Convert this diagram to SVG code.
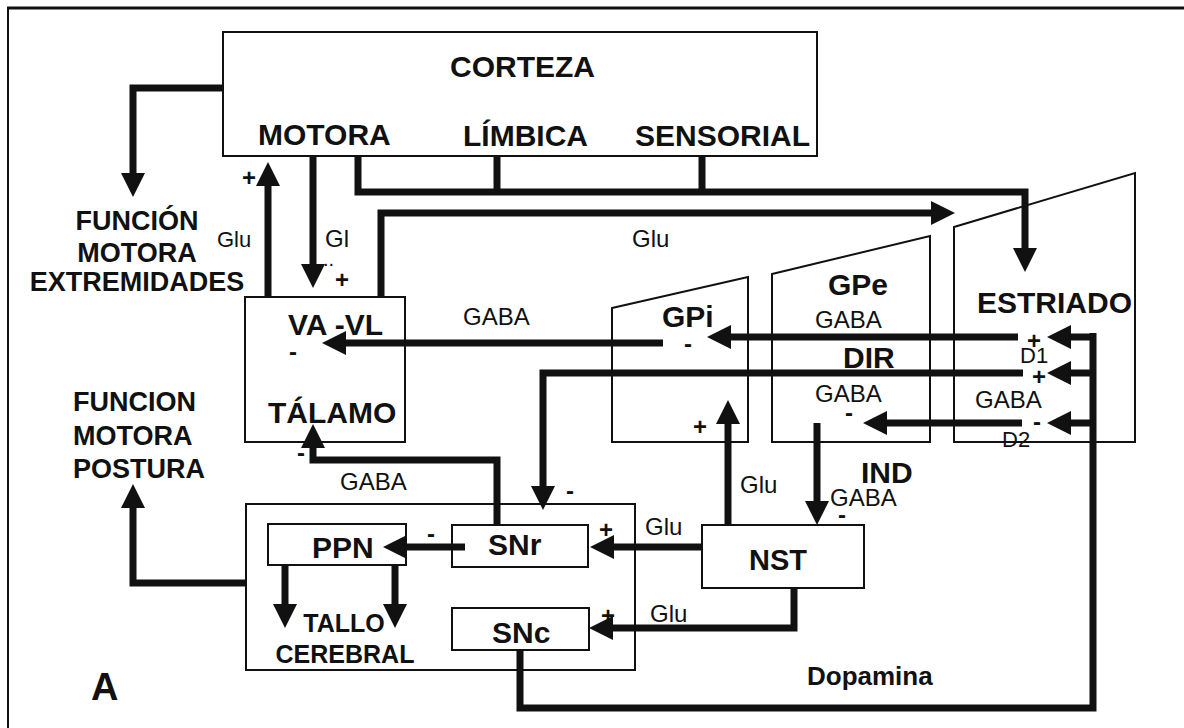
<svg xmlns="http://www.w3.org/2000/svg" width="1184" height="728" viewBox="0 0 1184 728">
<style>
.box{fill:none;stroke:#111;stroke-width:2}
.ln{fill:none;stroke:#111;stroke-width:7;stroke-linejoin:miter;stroke-linecap:butt}
.b{font-family:"Liberation Sans",Arial,sans-serif;font-weight:bold;fill:#111}
.r{font-family:"Liberation Sans",Arial,sans-serif;fill:#111}
.big{font-size:30px}
.mid{font-size:27px}
.lab{font-size:24px}
.sg{font-family:"Liberation Sans",Arial,sans-serif;font-weight:bold;font-size:24px;fill:#111;text-anchor:middle}
</style>
<defs>
<marker id="ah" markerUnits="userSpaceOnUse" markerWidth="24" markerHeight="24" refX="2" refY="12" orient="auto">
<path d="M0,0 L24,12 L0,24 z" fill="#111"/>
</marker>
</defs>
<rect width="1184" height="728" fill="#fff"/>
<g id="frame">
<line x1="7" y1="8" x2="1184" y2="8" stroke="#111" stroke-width="3"/>
<line x1="8" y1="7" x2="8" y2="728" stroke="#111" stroke-width="2"/>
</g>
<g id="connectors">
<path class="ln" d="M223,88 H133 V175" marker-end="url(#ah)"/>
<path class="ln" d="M268,297 V184" marker-end="url(#ah)"/>
<path class="ln" d="M313,156 V266" marker-end="url(#ah)"/>
<path class="ln" d="M358,156 V192 H1025 V250" marker-end="url(#ah)"/>
<path class="ln" d="M497,156 V192"/>
<path class="ln" d="M702,156 V192"/>
<path class="ln" d="M381,297 V213 H933" marker-end="url(#ah)"/>
<path class="ln" d="M663,343 H344" marker-end="url(#ah)"/>
<path class="ln" d="M497,525 V460 H313 V446" marker-end="url(#ah)"/>
<path class="ln" d="M1018,337 H729" marker-end="url(#ah)"/>
<path class="ln" d="M1023,373 H543 V488" marker-end="url(#ah)"/>
<path class="ln" d="M1022,423 H885" marker-end="url(#ah)"/>
<path class="ln" d="M817,423 V503" marker-end="url(#ah)"/>
<path class="ln" d="M728,525 V422" marker-end="url(#ah)"/>
<path class="ln" d="M702,547 H612" marker-end="url(#ah)"/>
<path class="ln" d="M794,588 V628 H611" marker-end="url(#ah)"/>
<path class="ln" d="M465,547 H405" marker-end="url(#ah)"/>
<path class="ln" d="M285,565 V606" marker-end="url(#ah)"/>
<path class="ln" d="M395,565 V606" marker-end="url(#ah)"/>
<path class="ln" d="M246,583 H133 V506" marker-end="url(#ah)"/>
<path class="ln" d="M520,650 V708 H1093 V333"/>
<path class="ln" d="M1093,337 H1069" marker-end="url(#ah)"/>
<path class="ln" d="M1093,373 H1069" marker-end="url(#ah)"/>
<path class="ln" d="M1093,423 H1069" marker-end="url(#ah)"/>
</g>
<g id="corteza">
<rect class="box" x="223" y="32" width="594" height="124"/>
<text class="b big" x="450" y="77">CORTEZA</text>
<text class="b big" x="258" y="145">MOTORA</text>
<text class="b big" x="463" y="146">LÍMBICA</text>
<text class="b big" x="635" y="146">SENSORIAL</text>
</g>
<g id="funcion-extremidades">
<text class="b mid" x="137" y="230" text-anchor="middle">FUNCIÓN</text>
<text class="b mid" x="137" y="262" text-anchor="middle">MOTORA</text>
<text class="b mid" x="137" y="291" text-anchor="middle">EXTREMIDADES</text>
</g>
<g id="funcion-postura">
<text class="b mid" x="73" y="411">FUNCION</text>
<text class="b mid" x="73" y="445">MOTORA</text>
<text class="b mid" x="73" y="478">POSTURA</text>
</g>
<g id="talamo">
<rect class="box" x="245" y="297" width="160" height="145"/>
<text class="b big" x="288" y="335">VA -VL</text>
<text class="b big" x="268" y="423">TÁLAMO</text>
</g>
<g id="gpi">
<polygon class="box" points="612,308 748,277 748,442 612,442"/>
<text class="b big" x="662" y="327">GPi</text>
</g>
<g id="gpe">
<polygon class="box" points="772,274 930,236 930,442 772,442"/>
<text class="b big" x="828" y="295">GPe</text>
</g>
<g id="estriado">
<polygon class="box" points="954,227 1135,173 1135,442 954,442"/>
<text class="b big" x="977" y="313">ESTRIADO</text>
</g>
<g id="sustancia-negra">
<rect class="box" x="246" y="504" width="389" height="166"/>
<text class="b" font-size="25" x="344" y="632" text-anchor="middle">TALLO</text>
<text class="b" font-size="25" x="345" y="663" text-anchor="middle">CEREBRAL</text>
</g>
<g id="ppn">
<rect class="box" x="268" y="524" width="138" height="41"/>
<text class="b big" x="312" y="558">PPN</text>
</g>
<g id="snr">
<rect class="box" x="452" y="525" width="136" height="42"/>
<text class="b big" x="488" y="555">SNr</text>
</g>
<g id="snc">
<rect class="box" x="452" y="608" width="137" height="42"/>
<text class="b big" x="492" y="643">SNc</text>
</g>
<g id="nst">
<rect class="box" x="702" y="525" width="162" height="63"/>
<text class="b" font-size="29" x="749" y="570">NST</text>
</g>
<g id="labels">
<text class="r" font-size="22" x="217" y="247">Glu</text>
<text class="r lab" x="325" y="247">Gl</text>
<text class="r" font-size="20" x="323" y="266">..</text>
<text class="r lab" x="632" y="247">Glu</text>
<text class="r lab" x="463" y="325">GABA</text>
<text class="r lab" x="340" y="490">GABA</text>
<text class="r lab" x="815" y="328">GABA</text>
<text class="b big" x="843" y="368">DIR</text>
<text class="r lab" x="815" y="402">GABA</text>
<text class="r lab" x="975" y="408">GABA</text>
<text class="r" font-size="22" x="1020" y="363">D1</text>
<text class="r" font-size="22" x="1002" y="447">D2</text>
<text class="b big" x="861" y="483">IND</text>
<text class="r lab" x="830" y="506">GABA</text>
<text class="r lab" x="740" y="493">Glu</text>
<text class="r lab" x="645" y="535">Glu</text>
<text class="r lab" x="650" y="622">Glu</text>
<text class="b" font-size="26" x="807" y="685">Dopamina</text>
<text class="b" font-size="38" x="91" y="700">A</text>
<text class="sg" x="249" y="186">+</text>
<text class="sg" x="342" y="288">+</text>
<text class="sg" x="293" y="360">-</text>
<text class="sg" x="301" y="461">-</text>
<text class="sg" x="688" y="352">-</text>
<text class="sg" x="700" y="435">+</text>
<text class="sg" x="1034" y="349">+</text>
<text class="sg" x="1039" y="385">+</text>
<text class="sg" x="1037" y="430">-</text>
<text class="sg" x="849" y="421">-</text>
<text class="sg" x="842" y="523">-</text>
<text class="sg" x="570" y="499">-</text>
<text class="sg" x="606" y="538">+</text>
<text class="sg" x="431" y="542">-</text>
<text class="sg" x="608" y="624">+</text>
</g>
</svg>
